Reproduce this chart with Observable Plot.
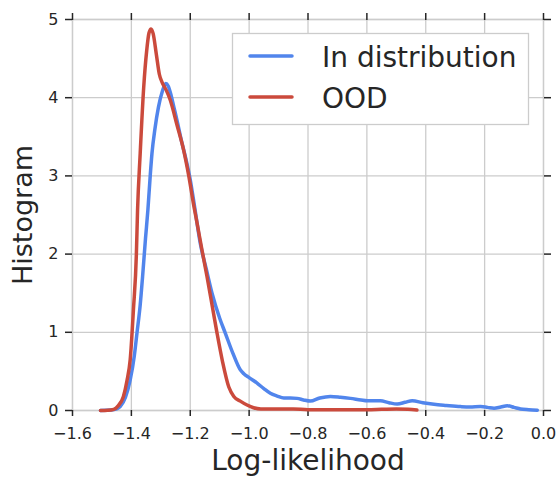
<!DOCTYPE html>
<html><head><meta charset="utf-8">
<script src="https://cdn.jsdelivr.net/npm/d3@7"></script>
<script src="https://cdn.jsdelivr.net/npm/@observablehq/plot@0.6"></script>
<style>body{margin:0;background:#fff;} #chart{position:relative;width:556px;height:477px;}</style>
</head><body><div id="chart"></div>
<script>
const xTicks = [-1.6, -1.4, -1.2, -1.0, -0.8, -0.6, -0.4, -0.2, 0.0];
const yTicks = [0, 1, 2, 3, 4, 5];
const seriesNames = ["In distribution", "OOD"];
const seriesColors = ["#5185ec", "#cb4a3c"];
const xLabel = "Log-likelihood";
const yLabel = "Histogram";

const inDistX = [-1.505,-1.47,-1.45,-1.438,-1.42,-1.404,-1.39,-1.381,-1.37,-1.362,-1.352,-1.344,-1.336,-1.33,-1.32,-1.308,-1.295,-1.283,-1.275,-1.265,-1.255,-1.245,-1.23,-1.215,-1.2,-1.185,-1.166,-1.145,-1.126,-1.1,-1.081,-1.055,-1.03,-1.018,-1.0,-0.973,-0.95,-0.928,-0.905,-0.882,-0.86,-0.837,-0.815,-0.792,-0.76,-0.724,-0.69,-0.656,-0.62,-0.599,-0.554,-0.525,-0.497,-0.47,-0.446,-0.41,-0.372,-0.33,-0.282,-0.25,-0.214,-0.19,-0.168,-0.145,-0.123,-0.1,-0.078,-0.05,-0.021];
const inDistY = [0,0.005,0.02,0.05,0.17,0.39,0.7,0.99,1.35,1.71,2.2,2.56,3.0,3.29,3.6,3.88,4.08,4.18,4.15,4.03,3.87,3.71,3.45,3.22,2.95,2.6,2.14,1.8,1.5,1.18,0.99,0.73,0.52,0.47,0.42,0.35,0.28,0.22,0.185,0.16,0.16,0.155,0.135,0.12,0.16,0.18,0.17,0.155,0.135,0.125,0.125,0.1,0.083,0.105,0.125,0.1,0.08,0.065,0.05,0.045,0.05,0.04,0.03,0.045,0.06,0.04,0.02,0.01,0.003];

const oodX = [-1.505,-1.48,-1.46,-1.445,-1.427,-1.415,-1.404,-1.393,-1.383,-1.379,-1.37,-1.358,-1.348,-1.34,-1.333,-1.326,-1.315,-1.305,-1.296,-1.282,-1.268,-1.245,-1.2225,-1.205,-1.188,-1.177,-1.16,-1.143,-1.125,-1.109,-1.09,-1.069,-1.052,-1.03,-1.007,-0.985,-0.96,-0.9,-0.85,-0.8,-0.7,-0.6,-0.55,-0.5,-0.46,-0.43];
const oodY = [0,0.003,0.015,0.06,0.18,0.38,0.65,1.29,2.0,2.56,3.29,4.14,4.6,4.83,4.88,4.82,4.55,4.3,4.2,4.1,3.97,3.65,3.33,3.0,2.62,2.4,2.05,1.71,1.33,0.99,0.62,0.3,0.18,0.12,0.07,0.035,0.02,0.02,0.02,0.01,0.01,0.01,0.015,0.02,0.015,0.005];

const inDist = inDistX.map((x, i) => ({x, y: inDistY[i]}));
const ood = oodX.map((x, i) => ({x, y: oodY[i]}));

const ink = "#262626";
const grid = "#cccccc";
const fmtX = d3.format(".1f");
const fmtY = d3.format("d");

const chart = Plot.plot({
  width: 556, height: 477,
  marginLeft: 72, marginRight: 13, marginTop: 19, marginBottom: 67,
  style: {fontFamily: "DejaVu Sans", color: ink, background: "#fff", overflow: "visible"},
  x: {domain: [-1.6, 0]},
  y: {domain: [0, 5]},
  marks: [
    Plot.gridX(xTicks, {stroke: grid, strokeOpacity: 1, strokeWidth: 1.3}),
    Plot.gridY(yTicks, {stroke: grid, strokeOpacity: 1, strokeWidth: 1.3}),
    Plot.frame({stroke: grid, strokeWidth: 1.3}),
    Plot.axisX(xTicks, {anchor: "bottom", tickSize: 6, tickPadding: 11, fontSize: 16, tickFormat: fmtX, label: null, stroke: ink, strokeWidth: 1.5}),
    Plot.axisX(xTicks, {anchor: "top", tickSize: 7, tickFormat: () => "", label: null, stroke: ink, strokeWidth: 1.5}),
    Plot.axisY(yTicks, {anchor: "left", tickSize: 7, tickPadding: 7, fontSize: 16, tickFormat: fmtY, label: null, stroke: ink, strokeWidth: 1.5}),
    Plot.axisY(yTicks, {anchor: "right", tickSize: 7, tickFormat: () => "", label: null, stroke: ink, strokeWidth: 1.5}),
    Plot.line(inDist, {x: "x", y: "y", stroke: seriesColors[0], strokeWidth: 3.5, curve: "monotone-x"}),
    Plot.line(ood, {x: "x", y: "y", stroke: seriesColors[1], strokeWidth: 3.5, curve: "monotone-x"}),
    Plot.text([xLabel], {text: d => d, frameAnchor: "bottom", textAnchor: "middle", lineAnchor: "bottom", dy: 59, fontSize: 28, fill: ink}),
    Plot.text([yLabel], {text: d => d, frameAnchor: "left", textAnchor: "middle", lineAnchor: "bottom", rotate: -90, dx: -41, fontSize: 27, fill: ink})
  ]
});
document.getElementById("chart").appendChild(chart);

// legend (inside plot, upper right)
const svg = d3.select(chart);
const lg = svg.append("g").attr("font-family", "DejaVu Sans").attr("text-anchor", "start");
lg.append("rect").attr("x", 232.5).attr("y", 33.5).attr("width", 296).attr("height", 91)
  .attr("fill", "#fff").attr("stroke", grid).attr("stroke-width", 1.3);
seriesNames.forEach((name, i) => {
  const cy = 56 + i * 41;
  lg.append("line").attr("x1", 250).attr("x2", 292).attr("y1", cy).attr("y2", cy)
    .attr("stroke", seriesColors[i]).attr("stroke-width", 3.5).attr("stroke-linecap", "round");
  lg.append("text").attr("x", 322).attr("y", cy + 10.5).attr("font-size", 28).attr("fill", ink)
    .attr("text-anchor", "start").text(name);
});
</script>
</body></html>
